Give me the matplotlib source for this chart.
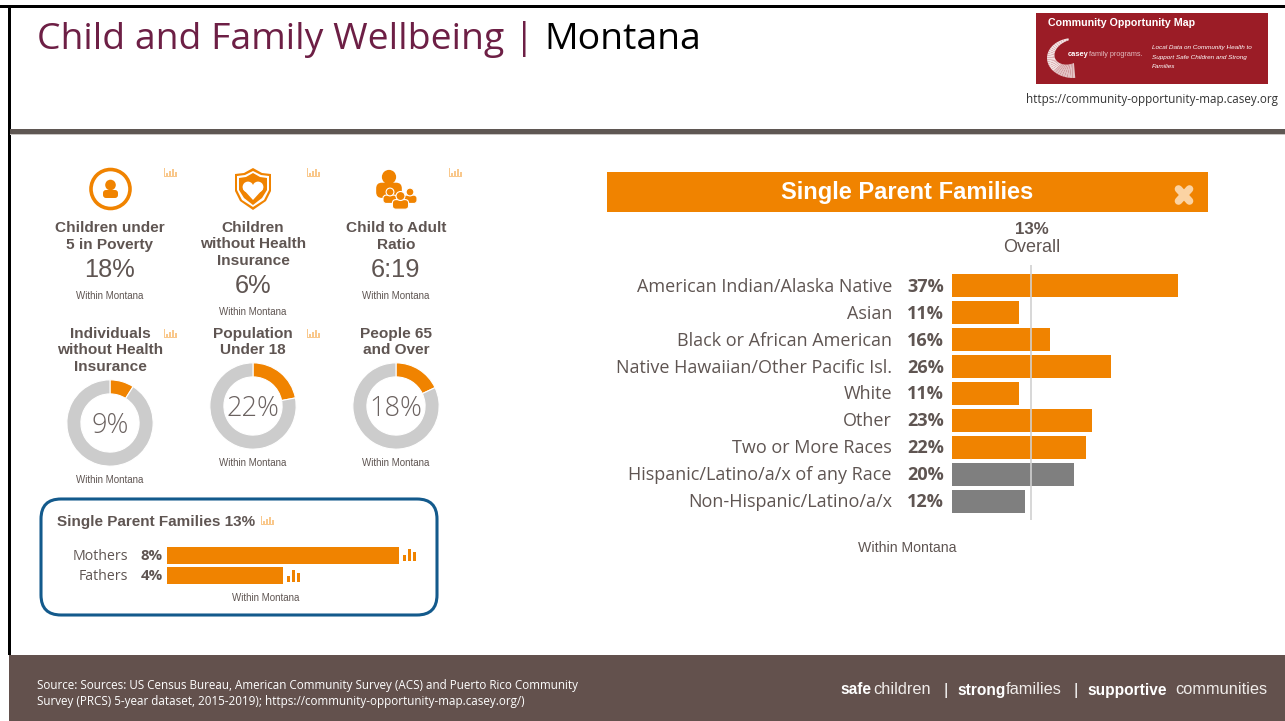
import matplotlib
matplotlib.use('Agg')
import matplotlib.pyplot as plt
import numpy as np
from matplotlib.patches import Rectangle, Circle, FancyBboxPatch, Polygon

# values
race_labels = ['American Indian/Alaska Native', 'Asian', 'Black or African American',
               'Native Hawaiian/Other Pacific Isl.', 'White', 'Other', 'Two or More Races',
               'Hispanic/Latino/a/x of any Race', 'Non-Hispanic/Latino/a/x']
race_values = [37, 11, 16, 26, 11, 23, 22, 20, 12]
race_is_ethnicity = [False, False, False, False, False, False, False, True, True]
overall = 13

parent_labels = ['Mothers', 'Fathers']
parent_values = [8, 4]

donut_titles = ['Individuals\nwithout Health\nInsurance', 'Population\nUnder 18', 'People 65\nand Over']
donut_values = [9, 22, 18]

stat_titles = ['Children under\n5 in Poverty', 'Children\nwithout Health\nInsurance', 'Child to Adult\nRatio']
stat_values = ['18%', '6%', '6:19']

ORANGE = '#f08300'
GREY = '#7f7f7f'
TEXT = '#5f5552'
BROWN = '#63514d'
SANS = 'Liberation Sans'
OPEN = 'Open Sans'

W, H = 1285, 721
fig = plt.figure(figsize=(W / 100, H / 100), dpi=100)
bg = fig.add_axes([0, 0, 1, 1])
bg.set_xlim(0, W)
bg.set_ylim(H, 0)
bg.axis('off')


def px_axes(x0, y0, x1, y1):
    ax = fig.add_axes([x0 / W, 1 - y1 / H, (x1 - x0) / W, (y1 - y0) / H])
    ax.patch.set_alpha(0)
    ax.axis('off')
    return ax


def rect(x, y, w, h, color, **kw):
    bg.add_patch(Rectangle((x, y), w, h, facecolor=color, edgecolor='none', **kw))


def small_chart_icon(x, y, color='#f9c88c'):
    # little bar chart glyph next to the titles
    for dx, hh in zip([2, 5, 8, 10.5], [3, 5, 7, 4]):
        rect(x + dx, y + 8 - hh, 2.2, hh, color)
    rect(x, y + 8, 13, 1.2, color)
    rect(x, y, 1.2, 8, color)


def solid_chart_icon(x, y):
    for dx, hh in zip([0, 5, 10], [6, 12, 9]):
        rect(x + dx, y + 12 - hh, 3.4, hh, ORANGE)


def within(x, y, size=7.0):
    bg.text(x, y + 1, 'Within Montana', ha='center', va='center', fontsize=size,
            color=TEXT, family=SANS)


# frame, header rule and footer
rect(0, 5, W, 3, 'black')
rect(8, 5, 3, 650, 'black')
rect(10, 129, W, 4.5, '#5f5753')
rect(10, 133.5, W, 1.5, '#c9c5c2')
rect(9, 655, W, 66, BROWN)

bg.text(37, 40, 'Child and Family Wellbeing', fontsize=26.9, color='#6d1f45',
        family=OPEN, va='center', ha='left')
bg.text(524, 39, '|', fontsize=26.9, color='#6d1f45', family=OPEN, va='center', ha='center')
bg.text(544, 40, 'Montana', fontsize=26.9, color='black', family=OPEN, va='center', ha='left')

# logo
rect(1036, 13, 232, 71, '#9b1c26')
bg.text(1048, 23, 'Community Opportunity Map', fontsize=7.7, color='white', weight='bold',
        family=SANS, va='center')
# swoosh: a band that widens from the top round to the bottom and fades out
ang = np.radians(np.linspace(100, 275, 30))
band = np.linspace(2, 15, 30)
for k in range(29):
    x_out = 1073 + 26 * np.cos(ang[k:k + 2])
    y_out = 58 - 20 * np.sin(ang[k:k + 2])
    x_in = 1073 + (26 - band[k:k + 2]) * np.cos(ang[k:k + 2])
    y_in = 58 - (20 - band[k:k + 2]) * np.sin(ang[k:k + 2])
    pts = list(zip(x_out, y_out)) + list(zip(x_in[::-1], y_in[::-1]))
    shade = '#f3e4e4' if k < 20 else '#e3c4c6'
    bg.add_patch(Polygon(pts, facecolor=shade, edgecolor='none'))
bg.text(1068, 54, 'casey', fontsize=5.4, color='white', weight='bold', family=SANS, va='center')
bg.text(1089, 54, 'family programs.', fontsize=5.2, color='#e3bcc0', family=SANS, va='center')
for i, line in enumerate(['Local Data on Community Health to', 'Support Safe Children and Strong', 'Families']):
    bg.text(1152, 48 + i * 9.5, line, fontsize=4.6, color='white', style='italic', family=SANS, va='center')
bg.text(1278, 99, 'https://community-opportunity-map.casey.org', fontsize=8.4, color='#333333',
        family=OPEN, ha='right', va='center')

# footer text
bg.text(37, 685, 'Source: Sources: US Census Bureau, American Community Survey (ACS) and Puerto Rico Community',
        fontsize=8.4, color='white', family=OPEN, va='center')
bg.text(37, 701, 'Survey (PRCS) 5-year dataset, 2015-2019); https://community-opportunity-map.casey.org/)',
        fontsize=8.4, color='white', family=OPEN, va='center')
for tx, word, bold in [(840, 'safe', True), (873, 'children', False), (957, 'strong', True),
                       (1006, 'families', False), (1087, 'supportive', True), (1175, 'communities', False)]:
    bg.text(tx, 690, word, fontsize=11.2 if bold else 11.8, color='white' if bold else '#f0ecea',
            weight='bold' if bold else 'normal', family=SANS, va='center')
for tx in [946, 1076]:
    bg.text(tx, 690, '|', fontsize=12, color='white', family=SANS, va='center', ha='center')

# top row of stats
stat_x = [110, 253, 396]
stat_title_y = [236.5, 244.5, 236.5]
stat_value_y = [270, 286, 270]
stat_note_y = [295, 311, 295]
for x, title, val, ty, vy, ny in zip(stat_x, stat_titles, stat_values, stat_title_y, stat_value_y, stat_note_y):
    bg.text(x, ty, title, ha='center', va='center', fontsize=11.1, weight='bold', color=TEXT,
            family=SANS, linespacing=1.2)
    bg.text(x, vy, val, ha='center', va='center', fontsize=18.3, color=TEXT, family=SANS)
    within(x, ny)

# person-in-circle icon
bg.add_patch(Circle((110.5, 189), 19.5, facecolor='none', edgecolor=ORANGE, linewidth=2.6))
bg.add_patch(Circle((110.5, 185), 5.3, facecolor=ORANGE, edgecolor='none'))
bg.add_patch(FancyBboxPatch((103, 190), 15, 8, boxstyle='round,pad=0,rounding_size=3',
                            facecolor=ORANGE, edgecolor='none'))

# shield icon
shield_out = [(253, 168), (262, 173), (271, 174), (271, 191), (266, 201), (253, 210),
              (240, 201), (235, 191), (235, 174), (244, 173)]
shield_in = [(253, 171), (261, 175), (269, 176), (269, 190), (264, 200), (253, 207),
             (242, 200), (237, 190), (237, 176), (245, 175)]
shield_core = [(253, 173), (260, 177), (267, 178), (267, 190), (262, 198), (253, 205),
               (244, 198), (239, 190), (239, 178), (246, 177)]
bg.add_patch(Polygon(shield_out, facecolor=ORANGE, edgecolor='none'))
bg.add_patch(Polygon(shield_in, facecolor='white', edgecolor='none'))
bg.add_patch(Polygon(shield_core, facecolor=ORANGE, edgecolor='none'))
bg.add_patch(Circle((248, 187), 5.4, facecolor='white', edgecolor='none'))
bg.add_patch(Circle((258, 187), 5.4, facecolor='white', edgecolor='none'))
bg.add_patch(Polygon([(243, 189), (263, 189), (253, 200)], facecolor='white', edgecolor='none'))


def person(x, y, s, edge='none'):
    bg.add_patch(FancyBboxPatch((x - 1.35 * s, y + s * 0.6), 2.7 * s, s * 1.6,
                                boxstyle='round,pad=0,rounding_size=%f' % (s * 0.6),
                                facecolor=ORANGE, edgecolor=edge, linewidth=0.8))
    bg.add_patch(Circle((x, y), s * 0.75, facecolor=ORANGE, edgecolor=edge, linewidth=0.8))


# family icon
person(389, 177, 9.5)
person(410, 192, 5.2, 'white')
person(390, 192, 5.2, 'white')
person(400.5, 196, 6, 'white')

# donuts
donut_x = [110, 253, 396]
donut_y = [423, 406, 406]
donut_title_y = [350.5, 342, 342]
donut_note_y = [479, 462, 462]
R = 43
for x, y, title, val, ty, ny in zip(donut_x, donut_y, donut_titles, donut_values, donut_title_y, donut_note_y):
    bg.text(x, ty, title, ha='center', va='center', fontsize=11.1, weight='bold', color=TEXT,
            family=SANS, linespacing=1.2)
    ax = px_axes(x - R - 1, y - R - 1, x + R + 1, y + R + 1)
    ax.pie([val, 100 - val], colors=[ORANGE, '#cccccc'], startangle=90, counterclock=False, radius=1,
           wedgeprops={'width': 14 / R, 'edgecolor': 'white', 'linewidth': 0.8})
    ax.set_xlim(-1.02, 1.02)
    ax.set_ylim(-1.02, 1.02)
    ax.text(0, -0.07, f'{val}%', ha='center', va='center', fontsize=19.5, color='#6b6260',
            family=OPEN, weight='light')
    within(x, ny)

# single parent families card
bg.add_patch(FancyBboxPatch((41, 499), 396, 116, boxstyle='round,pad=0,rounding_size=20',
                            facecolor='white', edgecolor='#135a8c', linewidth=2.2))
bg.text(57, 522, 'Single Parent Families 13%', fontsize=11, weight='bold', color=TEXT, family=SANS, va='center')

# small chart glyphs at the titles
for gx, gy in [(164, 168), (307, 168), (449, 168), (164, 329), (307, 329), (261, 516)]:
    small_chart_icon(gx, gy)

ax_parent = px_axes(167, 545, 399, 585)
ypos = list(range(len(parent_values)))
ax_parent.barh(ypos, parent_values, height=0.85, color=ORANGE)
ax_parent.set_xlim(0, max(parent_values))
ax_parent.set_ylim(1.5, -0.5)
for i, (lab, val) in enumerate(zip(parent_labels, parent_values)):
    ax_parent.annotate(lab, (0, i), xytext=(-39, -2), textcoords='offset pixels', ha='right', va='center',
                       fontsize=10.2, color=TEXT, family=OPEN)
    ax_parent.annotate(f'{val}%', (0, i), xytext=(-4, -1), textcoords='offset pixels', ha='right', va='center',
                       fontsize=10.8, color=TEXT, weight='bold', family=OPEN)
solid_chart_icon(403, 549)
solid_chart_icon(287, 570)
within(266, 597)

# detail panel
rect(607, 172, 601, 40, ORANGE)
bg.text(907, 193, 'Single Parent Families', ha='center', va='center', fontsize=17, weight='bold',
        color='white', family=SANS)
bg.plot([1178.5, 1189.5], [189, 201], color='#fbd3a3', lw=5.5, solid_capstyle='round')
bg.plot([1178.5, 1189.5], [201, 189], color='#fbd3a3', lw=5.5, solid_capstyle='round')
bg.text(1032, 230, f'{overall}%', ha='center', va='center', fontsize=12.2, weight='bold', color=TEXT, family=SANS)
bg.text(1032, 247, 'Overall', ha='center', va='center', fontsize=13, color=TEXT, family=SANS)

ax_race = px_axes(952, 265, 1178, 520)
ypos = list(range(len(race_values)))
colors = [GREY if e else ORANGE for e in race_is_ethnicity]
ax_race.barh(ypos, race_values, height=0.86, color=colors)
ax_race.set_xlim(0, max(race_values))
ax_race.set_ylim(8.70, -0.77)
ax_race.axvline(overall, color='#d0d0d0', lw=1.4, alpha=0.85)
for i, (lab, val) in enumerate(zip(race_labels, race_values)):
    ax_race.annotate(lab, (0, i), xytext=(-60, -1), textcoords='offset pixels', ha='right', va='center',
                     fontsize=13, color=TEXT, family=OPEN)
    ax_race.annotate(f'{val}%', (0, i), xytext=(-8, -1), textcoords='offset pixels', ha='right', va='center',
                     fontsize=13, color=TEXT, weight='bold', family=OPEN)
bg.text(907, 548.5, 'Within Montana', ha='center', va='center', fontsize=10.2, color=TEXT, family=SANS)

fig.savefig('out.png', dpi=100)
